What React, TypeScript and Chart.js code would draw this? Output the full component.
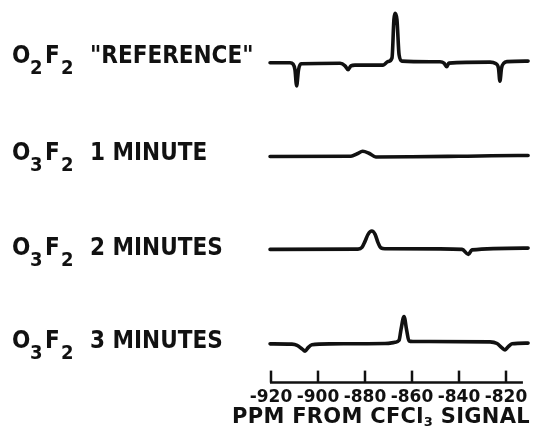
import React, { useEffect, useRef } from "react";
import { Chart, registerables } from "chart.js";

Chart.register(...registerables);

// x axis (ppm from CFCl3 signal)
const TICK_VALUES = [-920, -900, -880, -860, -840, -820];
const X_MIN = -920;
const X_MAX = -810;
const AXIS_TITLE_PARTS = [
  { text: "PPM FROM CFCl", sub: false },
  { text: "3", sub: true },
  { text: " SIGNAL", sub: false },
];

// trace labels
const LABEL_MAIN = ['"REFERENCE"', "1 MINUTE", "2 MINUTES", "3 MINUTES"];
const LABEL_SUBS = [["2", "2"], ["3", "2"], ["3", "2"], ["3", "2"]];

// O2F2 "REFERENCE"
const REF_PPM = [-920.4, -911.9, -910.6, -909.8, -909.1, -908.3, -907.2, -890.6, -888.5, -887.2, -886.0, -884.3, -872.3, -870.2, -868.5, -867.7, -867.2, -866.4, -865.5, -864.3, -848.1, -846.4, -845.2, -844.3, -826.8, -824.4, -823.2, -822.6, -821.9, -820.9, -819.6, -810.6];
const REF_INT = [0, 0, -1.3, -7, -23, -7, -1, -0.5, -3, -7, -3, -2.3, -2.3, 1.2, 5, 43, 49.4, 43, 8, 1.7, 1, -0.3, -4, -0.3, 0.7, -0.8, -5.3, -18.3, -5.3, -0.3, 1.2, 1.7];

// O3F2 1 minute
const MIN1_PPM = [-920.4, -886.0, -883.3, -881.0, -878.3, -875.4, -860.0, -840.0, -815.0, -810.6];
const MIN1_INT = [-0.3, 0, 2.5, 5, 3, -0.7, -0.5, 0, 0.7, 0.7];

// O3F2 2 minutes
const MIN2_PPM = [-920.4, -883.0, -881.3, -880.0, -878.7, -877.1, -875.7, -874.5, -873.2, -871.5, -848.1, -838.7, -836.0, -834.5, -810.6];
const MIN2_INT = [0, 0.3, 2, 8, 15, 18.3, 15, 7, 1.5, 0.7, 0.5, 0, -5, -0.5, 1.3];

// O3F2 3 minutes
const MIN3_PPM = [-920.4, -911.1, -908.9, -906.8, -905.5, -904.3, -902.6, -894.9, -871.5, -867.2, -865.5, -864.7, -863.4, -862.3, -861.3, -859.6, -826.8, -823.8, -821.7, -820.4, -819.1, -817.4, -810.6];
const MIN3_INT = [0, -0.3, -1.5, -5, -7.4, -4, -1, 0, 0.3, 1.5, 3.5, 14, 27.3, 14, 3, 2.3, 2, 0.3, -4, -6, -3, 0, 0.7];

// vertical stacking offsets of the traces (layout)
const TRACE_OFFSETS = [319.3, 226, 133, 38.7];
const LABEL_BASELINES = [63, 160, 255, 348];

const INK = "#111";

const mk = (ppm: number[], vals: number[], off: number) =>
  ppm.map((x, i) => ({ x, y: off + vals[i] }));

const labelPlugin = {
  id: "stackLabels",
  afterDraw(chart: any) {
    const ctx = chart.ctx as CanvasRenderingContext2D;
    const xs = chart.scales.x;
    const area = chart.chartArea;
    ctx.save();
    // axis line with upward ticks
    ctx.strokeStyle = INK;
    ctx.lineWidth = 2.5;
    ctx.lineCap = "butt";
    const axY = area.bottom;
    ctx.beginPath();
    ctx.moveTo(xs.getPixelForValue(X_MIN) - 1, axY);
    ctx.lineTo(xs.getPixelForValue(-812.8), axY);
    ctx.stroke();
    TICK_VALUES.forEach((v) => {
      const px = Math.round(xs.getPixelForValue(v));
      ctx.beginPath();
      ctx.moveTo(px, axY);
      ctx.lineTo(px, axY - 12);
      ctx.stroke();
    });
    // labels
    ctx.fillStyle = INK;
    ctx.textBaseline = "alphabetic";
    ctx.textAlign = "left";
    const mainFont = 'bold 24px "DejaVu Sans Condensed", "DejaVu Sans", sans-serif';
    const subFont = 'bold 20px "DejaVu Sans Condensed", "DejaVu Sans", sans-serif';
    LABEL_MAIN.forEach((txt, i) => {
      const b = LABEL_BASELINES[i];
      const subs = LABEL_SUBS[i];
      ctx.font = mainFont;
      ctx.fillText("O", 12, b);
      ctx.fillText("F", 45, b);
      ctx.fillText(txt, 90, b);
      ctx.font = subFont;
      ctx.fillText(subs[0], 30, b + 11);
      ctx.fillText(subs[1], 61, b + 11);
    });
    // axis title with subscript, spread over its span
    const tFont = 'bold 21px "DejaVu Sans", sans-serif';
    const tSub = 'bold 13px "DejaVu Sans", sans-serif';
    const left = 232;
    const right = 530;
    const base = 423;
    const anyCtx = ctx as any;
    anyCtx.letterSpacing = "0px";
    let natural = 0;
    let chars = 0;
    AXIS_TITLE_PARTS.forEach((p) => {
      ctx.font = p.sub ? tSub : tFont;
      natural += ctx.measureText(p.text).width;
      chars += p.text.length;
    });
    const spacing = Math.max(0, (right - left - natural) / chars);
    anyCtx.letterSpacing = spacing.toFixed(2) + "px";
    let x = left;
    AXIS_TITLE_PARTS.forEach((p) => {
      ctx.font = p.sub ? tSub : tFont;
      ctx.fillText(p.text, x, p.sub ? base + 3 : base);
      x += ctx.measureText(p.text).width;
    });
    anyCtx.letterSpacing = "0px";
    ctx.restore();
  },
};

export default function App() {
  const ref = useRef<HTMLCanvasElement | null>(null);
  useEffect(() => {
    if (!ref.current) return;
    const series = [
      [REF_PPM, REF_INT],
      [MIN1_PPM, MIN1_INT],
      [MIN2_PPM, MIN2_INT],
      [MIN3_PPM, MIN3_INT],
    ];
    const chart = new Chart(ref.current, {
      type: "line",
      data: {
        datasets: series.map(([p, v], i) => ({
          data: mk(p as number[], v as number[], TRACE_OFFSETS[i]),
          borderColor: INK,
          borderWidth: 3.6,
          pointRadius: 0,
          fill: false,
          cubicInterpolationMode: "monotone" as const,
          borderCapStyle: "round" as const,
          borderJoinStyle: "round" as const,
          clip: false as any,
        })),
      },
      options: {
        animation: false,
        responsive: false,
        devicePixelRatio: 1,
        layout: { padding: { left: 271, right: 6.5, top: 2, bottom: 19 } },
        plugins: { legend: { display: false }, tooltip: { enabled: false } },
        scales: {
          x: {
            type: "linear",
            min: X_MIN,
            max: X_MAX,
            grid: { display: false, drawTicks: false },
            border: { display: false },
            afterBuildTicks: (s: any) => {
              s.ticks = TICK_VALUES.map((v) => ({ value: v }));
            },
            ticks: {
              autoSkip: false,
              maxRotation: 0,
              padding: 5,
              color: INK,
              font: { family: '"DejaVu Sans", sans-serif', size: 17, weight: "bold" },
              callback: (v: any) => String(v),
            },
            title: { display: false },
          },
          y: { display: false, min: 0, max: 380 },
        },
      },
      plugins: [labelPlugin],
    });
    return () => chart.destroy();
  }, []);
  return (
    <div style={{ position: "fixed", left: 0, top: 0, width: 536, height: 432, background: "#fff" }}>
      <canvas ref={ref} width={536} height={432} style={{ display: "block" }} />
    </div>
  );
}
